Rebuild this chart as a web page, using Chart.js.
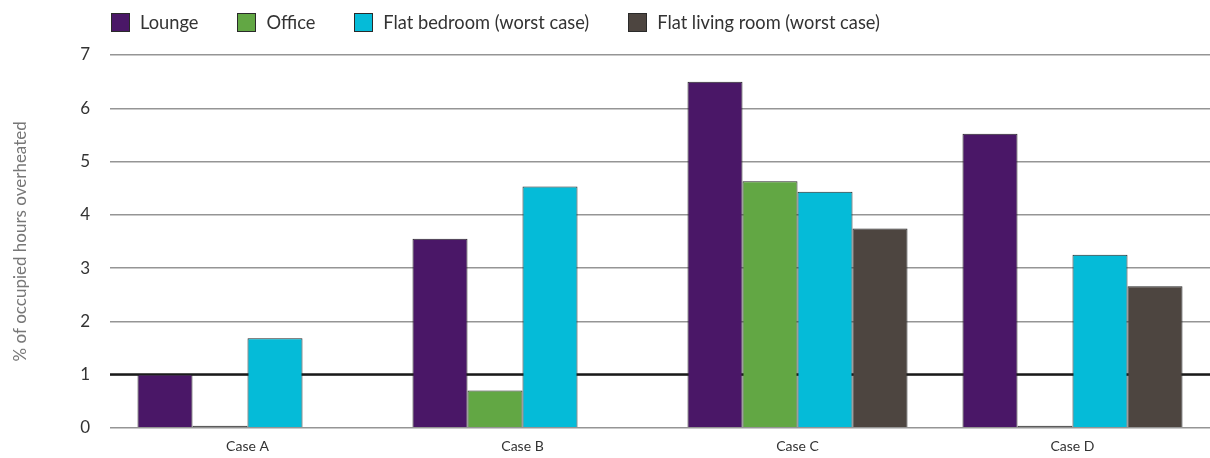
<!DOCTYPE html>
<html>
<head>
<meta charset="utf-8">
<script src="https://cdn.jsdelivr.net/npm/chart.js@4/dist/chart.umd.min.js"></script>
<style>
  html, body { margin: 0; padding: 0; background: #fff; overflow: hidden; }
  #wrap { position: relative; width: 1210px; height: 458px; }
  #chart { display: block; }
  #legend {
    position: absolute; top: 12px; left: 111px;
    display: flex; gap: 39px; font-family: Lato, sans-serif; font-size: 18.25px; color: #333;
  }
  .item { display: flex; align-items: center; height: 20px; }
  .swatch { width: 17px; height: 17px; border: 1px solid #2a2a2a; margin-right: 10px; }
</style>
</head>
<body>
<div id="wrap">
  <canvas id="chart" width="1210" height="458"></canvas>
  <div id="legend"></div>
</div>
<script>
// Overheating results per case
const categories = ['Case A', 'Case B', 'Case C', 'Case D'];
const seriesNames = ['Lounge', 'Office', 'Flat bedroom (worst case)', 'Flat living room (worst case)'];
const lounge      = [1.0, 3.55, 6.5, 5.52];
const office      = [0, 0.7, 4.63, 0];
const flatBedroom = [1.68, 4.53, 4.43, 3.25];
const flatLiving  = [null, null, 3.74, 2.66];
const yTicks = [0, 1, 2, 3, 4, 5, 6, 7];
const threshold = 1;

const colors = ['#4a1767', '#62a744', '#05bbd8', '#4d4540'];
const edgeColor = '#262626';
const seriesValues = [lounge, office, flatBedroom, flatLiving];

// legend
const legendEl = document.getElementById('legend');
seriesNames.forEach((name, i) => {
  const item = document.createElement('div');
  item.className = 'item';
  const sw = document.createElement('span');
  sw.className = 'swatch';
  sw.style.background = colors[i];
  const label = document.createElement('span');
  label.textContent = name;
  item.appendChild(sw);
  item.appendChild(label);
  legendEl.appendChild(item);
});

// heavy reference line at the threshold, drawn under the bars
const thresholdLine = {
  id: 'thresholdLine',
  beforeDatasetsDraw(chart) {
    const { ctx, chartArea, scales } = chart;
    const y = scales.y.getPixelForValue(threshold);
    ctx.save();
    ctx.strokeStyle = '#1a1a1a';
    ctx.lineWidth = 2.5;
    ctx.beginPath();
    ctx.moveTo(chartArea.left, y);
    ctx.lineTo(chartArea.right, y);
    ctx.stroke();
    ctx.restore();
  }
};

new Chart(document.getElementById('chart'), {
  type: 'bar',
  data: {
    labels: categories,
    datasets: seriesNames.map((name, i) => ({
      label: name,
      data: seriesValues[i],
      // zero values show only as a dark sliver on the axis
      backgroundColor: ctx => (ctx.raw === 0 ? edgeColor : colors[i]),
      borderColor: edgeColor,
      borderWidth: 1,
      minBarLength: 2,
      categoryPercentage: 0.8,
      barPercentage: 1.0
    }))
  },
  options: {
    responsive: false,
    animation: false,
    layout: { padding: { top: 55, right: 0, left: 0, bottom: 0 } },
    plugins: { legend: { display: false }, tooltip: { enabled: false } },
    scales: {
      x: {
        grid: { display: false, drawTicks: false },
        border: { display: false },
        ticks: { color: '#333', font: { family: 'Lato', size: 14 }, padding: 10 },
        afterFit(scale) { scale.height = 28; }
      },
      y: {
        min: 0, max: 7,
        afterBuildTicks(scale) { scale.ticks = yTicks.map(v => ({ value: v })); },
        grid: { color: '#959595', lineWidth: 1.5, drawTicks: false },
        border: { display: false },
        ticks: { color: '#333', font: { family: 'Lato', size: 17 }, padding: 20 },
        title: {
          display: true,
          text: '% of occupied hours overheated',
          color: '#777',
          font: { family: 'Lato', size: 17 },
          padding: { top: 10, bottom: 0 }
        },
        afterFit(scale) { scale.width = 110; }
      }
    }
  },
  plugins: [thresholdLine]
});
</script>
</body>
</html>
